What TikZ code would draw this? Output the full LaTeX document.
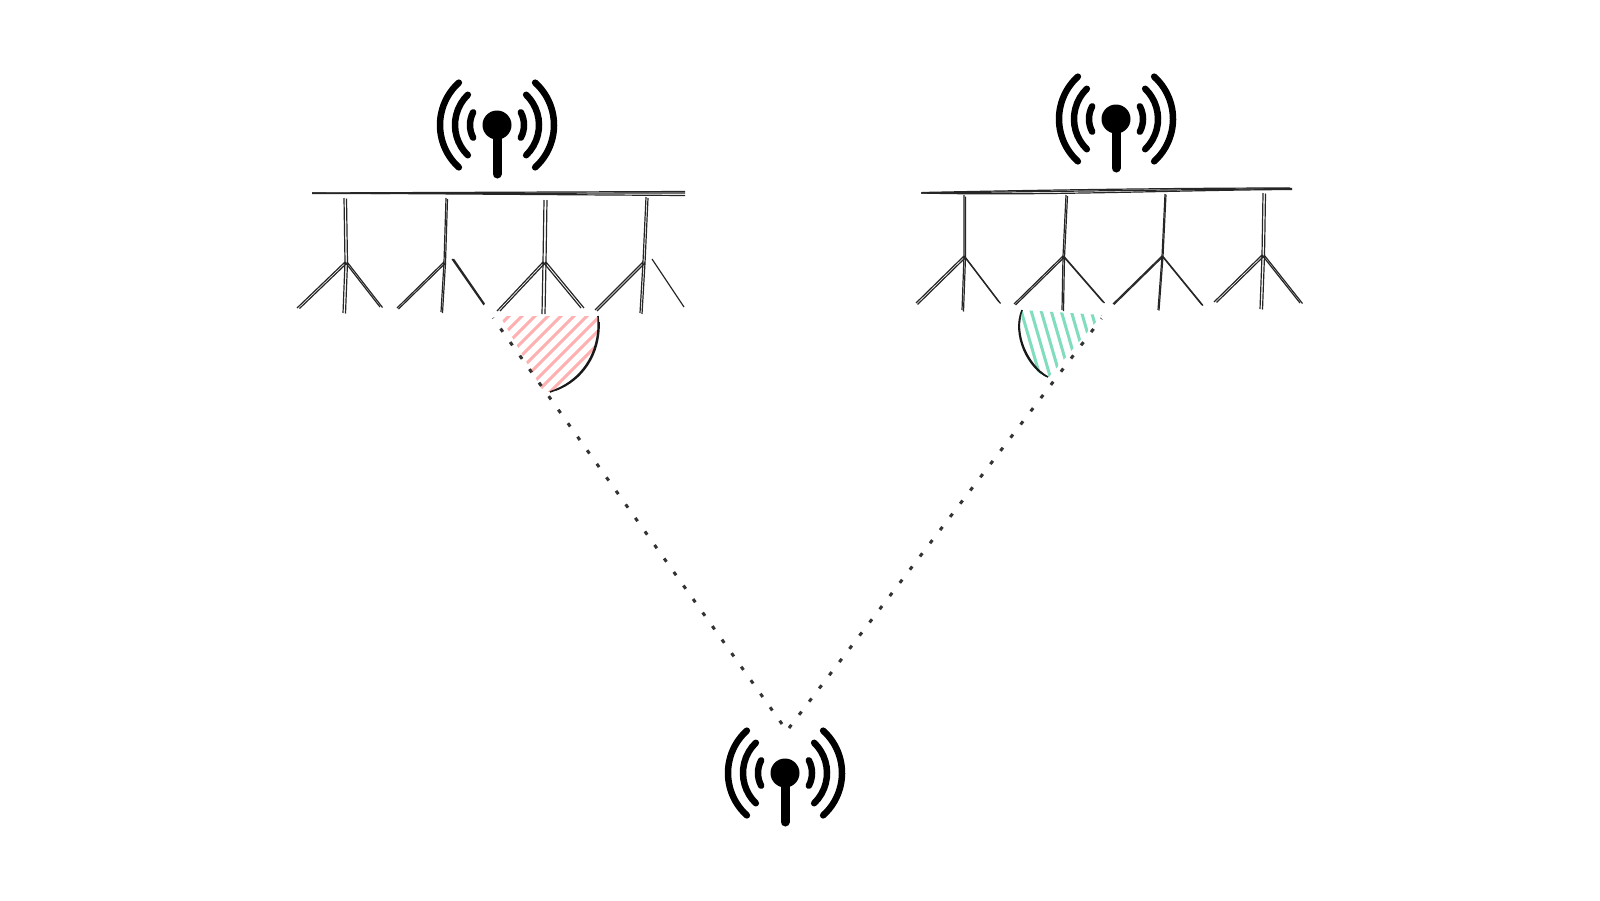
\documentclass[tikz,border=0pt]{standalone}
\definecolor{hatchred}{RGB}{255,176,176}
\definecolor{hatchgreen}{RGB}{128,221,190}
\tikzset{
  mast/.style={circle,fill=black,inner sep=0pt,minimum size=29pt},
  stem/.style={line width=9pt,line cap=round},
  wave/.style={line width=6.5pt,line cap=round},
  sketch/.style={line width=1.2pt,color=black!85},
  rim/.style={line width=1.6pt,color=black!90},
  dots/.style={line width=3pt,color=black!80,dash pattern=on 4pt off 12.6pt},
}
% name, centre x, centre y
\newcommand{\antenna}[3]{
  \node[mast] (#1) at (#2pt,#3pt) {};
  \coordinate (#1foot) at (#2pt,#3pt+49pt);
  \draw[stem] (#1.center) -- (#1foot);
  \foreach \rad/\ang in {27/28,42/46,57/48}{
    \draw[wave] (#1.center) ++(180-\ang:\rad pt) arc (180-\ang:180+\ang:\rad pt);
    \draw[wave] (#1.center) ++(-\ang:\rad pt) arc (-\ang:\ang:\rad pt);
  }
}
% name, top x y, junction x y, left x y, bottom x y, right x y, second stroke offset
\newcommand{\dipole}[7]{
  \coordinate (#1top) at (#2);
  \coordinate (#1mid) at (#3);
  \coordinate (#1l) at (#4);
  \coordinate (#1b) at (#5);
  \coordinate (#1r) at (#6);
  \draw[sketch] (#1top) -- (#1mid) (#1mid) -- (#1l) (#1mid) -- (#1b) (#1mid) -- (#1r);
  \draw[sketch,shift={(#7)}] (#2) -- (#3) (#3) -- (#4) (#3) -- (#5) (#3) -- (#6);
}
\begin{document}
\begin{tikzpicture}[yscale=-1]
\useasboundingbox (0pt,0pt) rectangle (1600pt,900pt);
\fill[white] (0pt,0pt) rectangle (1600pt,900pt);
% hatched sectors
\begin{scope}
\clip (500pt,316pt) -- (597pt,316pt) .. controls (600pt,355pt) and (580pt,382pt) .. (550pt,392pt) -- (543pt,391pt) -- cycle;
\foreach \k in {-8,...,14}{
  \draw[hatchred,line width=3pt] (480pt+\k*13pt,410pt) -- ++(110pt,-110pt);
}
\end{scope}
\begin{scope}
\clip (1022pt,310pt) -- (1102pt,315pt) -- (1048pt,378pt) .. controls (1030pt,372pt) and (1012pt,340pt) .. cycle;
\foreach \k in {0,...,10}{
  \draw[hatchgreen,line width=3pt] (1018pt+\k*10pt,300pt) -- ++(26pt,90pt);
}
\end{scope}
\coordinate (redtop) at (598pt,316pt);
\coordinate (redend) at (550pt,392pt);
\coordinate (greentop) at (1022pt,310pt);
\coordinate (greenend) at (1048pt,377pt);
\draw[rim] (redtop) .. controls (601pt,355pt) and (580pt,382pt) .. (redend);
\draw[rim] (599pt,322pt) .. controls (600pt,355pt) and (582pt,380pt) .. (556pt,390pt);
\draw[rim] (greentop) .. controls (1012pt,335pt) and (1028pt,368pt) .. (greenend);
\draw[rim] (1020pt,318pt) .. controls (1016pt,340pt) and (1030pt,366pt) .. (1046pt,376pt);
% dotted links
\coordinate (apexl) at (782pt,724pt);
\coordinate (apexr) at (789pt,728pt);
\coordinate (linkl) at (493pt,318pt);
\coordinate (linkr) at (1101.5pt,318.5pt);
\draw[dots] (apexl) -- (linkl);
\draw[dots] (apexr) -- (linkr);
% antennas
\antenna{txa}{497}{125}
\antenna{txb}{1116}{119}
\antenna{txc}{785}{773}
% feed bars
\coordinate (bara) at (312pt,193pt);
\coordinate (barb) at (921pt,193pt);
\draw[sketch] (bara) -- (685pt,191.5pt);
\draw[sketch] (bara) -- (685pt,195.5pt);
\draw[sketch] (312pt,193.5pt) -- (685pt,193pt);
\draw[sketch] (barb) -- (1292pt,188.5pt);
\draw[sketch] (barb) .. controls (1040pt,196pt) and (1180pt,190pt) .. (1292pt,189.5pt);
\draw[sketch] (922pt,192.5pt) .. controls (1040pt,190pt) and (1180pt,188pt) .. (1290pt,188pt);
% dipoles
\dipole{aa}{344pt,198pt}{345pt,262pt}{297pt,308pt}{343pt,313pt}{380pt,307pt}{2.5pt,0.5pt}
\dipole{ab}{446pt,198pt}{444pt,262pt}{397pt,308pt}{441pt,312pt}{443pt,262pt}{1.5pt,1pt}
\dipole{ac}{544pt,200pt}{543pt,262pt}{497pt,311pt}{542pt,314pt}{581pt,308pt}{3pt,0pt}
\dipole{ad}{646pt,197pt}{643pt,262pt}{595pt,310pt}{640pt,313pt}{642pt,262pt}{2pt,1pt}
\draw[sketch] (452pt,259pt) -- (484pt,305pt) (453.5pt,259pt) -- (484.5pt,304pt);
\draw[sketch] (652pt,259pt) -- (684pt,307pt);
\dipole{ba}{964pt,195pt}{964pt,256pt}{916pt,303pt}{962pt,310pt}{999pt,302pt}{1.5pt,1.5pt}
\dipole{bb}{1066pt,195pt}{1063pt,256pt}{1014pt,304pt}{1062pt,310pt}{1103pt,302pt}{1.5pt,1pt}
\dipole{bc}{1165pt,194pt}{1162pt,256pt}{1113pt,304pt}{1158pt,310pt}{1202pt,305pt}{1pt,0.5pt}
\dipole{bd}{1263pt,193pt}{1262pt,255pt}{1214pt,302pt}{1260pt,309pt}{1300pt,303pt}{2.5pt,0.5pt}
\end{tikzpicture}
\end{document}
